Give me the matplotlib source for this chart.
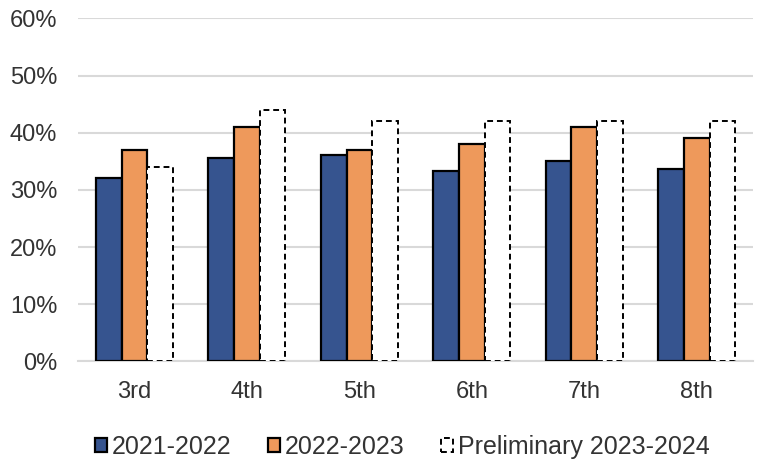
import matplotlib.pyplot as plt
import numpy as np

plt.rcParams['font.family'] = ['Liberation Sans', 'DejaVu Sans']

grades = ["3rd", "4th", "5th", "6th", "7th", "8th"]
series_labels = ["2021-2022", "2022-2023", "Preliminary 2023-2024"]
y_2021_22 = [32.1, 35.6, 36.1, 33.3, 35.1, 33.7]
y_2022_23 = [37.0, 41.0, 37.0, 38.0, 41.0, 39.0]
y_2023_24 = [34.0, 44.0, 42.0, 42.0, 42.0, 42.0]
y_ticks = [0, 10, 20, 30, 40, 50, 60]

fig = plt.figure(figsize=(7.59, 4.61), dpi=100)
ax = fig.add_axes([0.103, 0.216, 0.889, 0.744])

x = np.arange(len(grades))
w = 0.228
ax.bar(x - w, y_2021_22, w, color="#36548F", edgecolor="black", linewidth=1.6,
       label=series_labels[0], zorder=3)
ax.bar(x, y_2022_23, w, color="#EE995B", edgecolor="black", linewidth=1.6,
       label=series_labels[1], zorder=3)
ax.bar(x + w, y_2023_24, w, facecolor="white", edgecolor="black", linewidth=1.4,
       linestyle=(0, (3, 2)), label=series_labels[2], zorder=3)

ax.set_xlim(-0.5, len(grades) - 0.5)
ax.set_ylim(0, 60)
ax.set_yticks(y_ticks)
ax.set_yticklabels([f"{t}%" for t in y_ticks])
ax.set_xticks(x)
ax.set_xticklabels(grades)
ax.tick_params(axis="both", length=0, labelsize=17, colors="#333333")
ax.tick_params(axis="y", pad=15)
ax.tick_params(axis="x", pad=14)

ax.grid(axis="y", color="#D9D9D9", linewidth=1.5, zorder=0)
for s in ["top", "right", "left"]:
    ax.spines[s].set_visible(False)
ax.spines["bottom"].set_color("#D9D9D9")
ax.spines["bottom"].set_linewidth(1.5)

leg = fig.legend(*ax.get_legend_handles_labels(), loc="center left",
                 bbox_to_anchor=(95 / 759, 1 - 447 / 461), ncol=3,
                 frameon=False, fontsize=18, handlelength=0.48, handleheight=0.48,
                 handletextpad=0.2, columnspacing=1.45, labelcolor="#333333",
                 borderpad=0, borderaxespad=0)

fig.savefig("out.png", dpi=100)
